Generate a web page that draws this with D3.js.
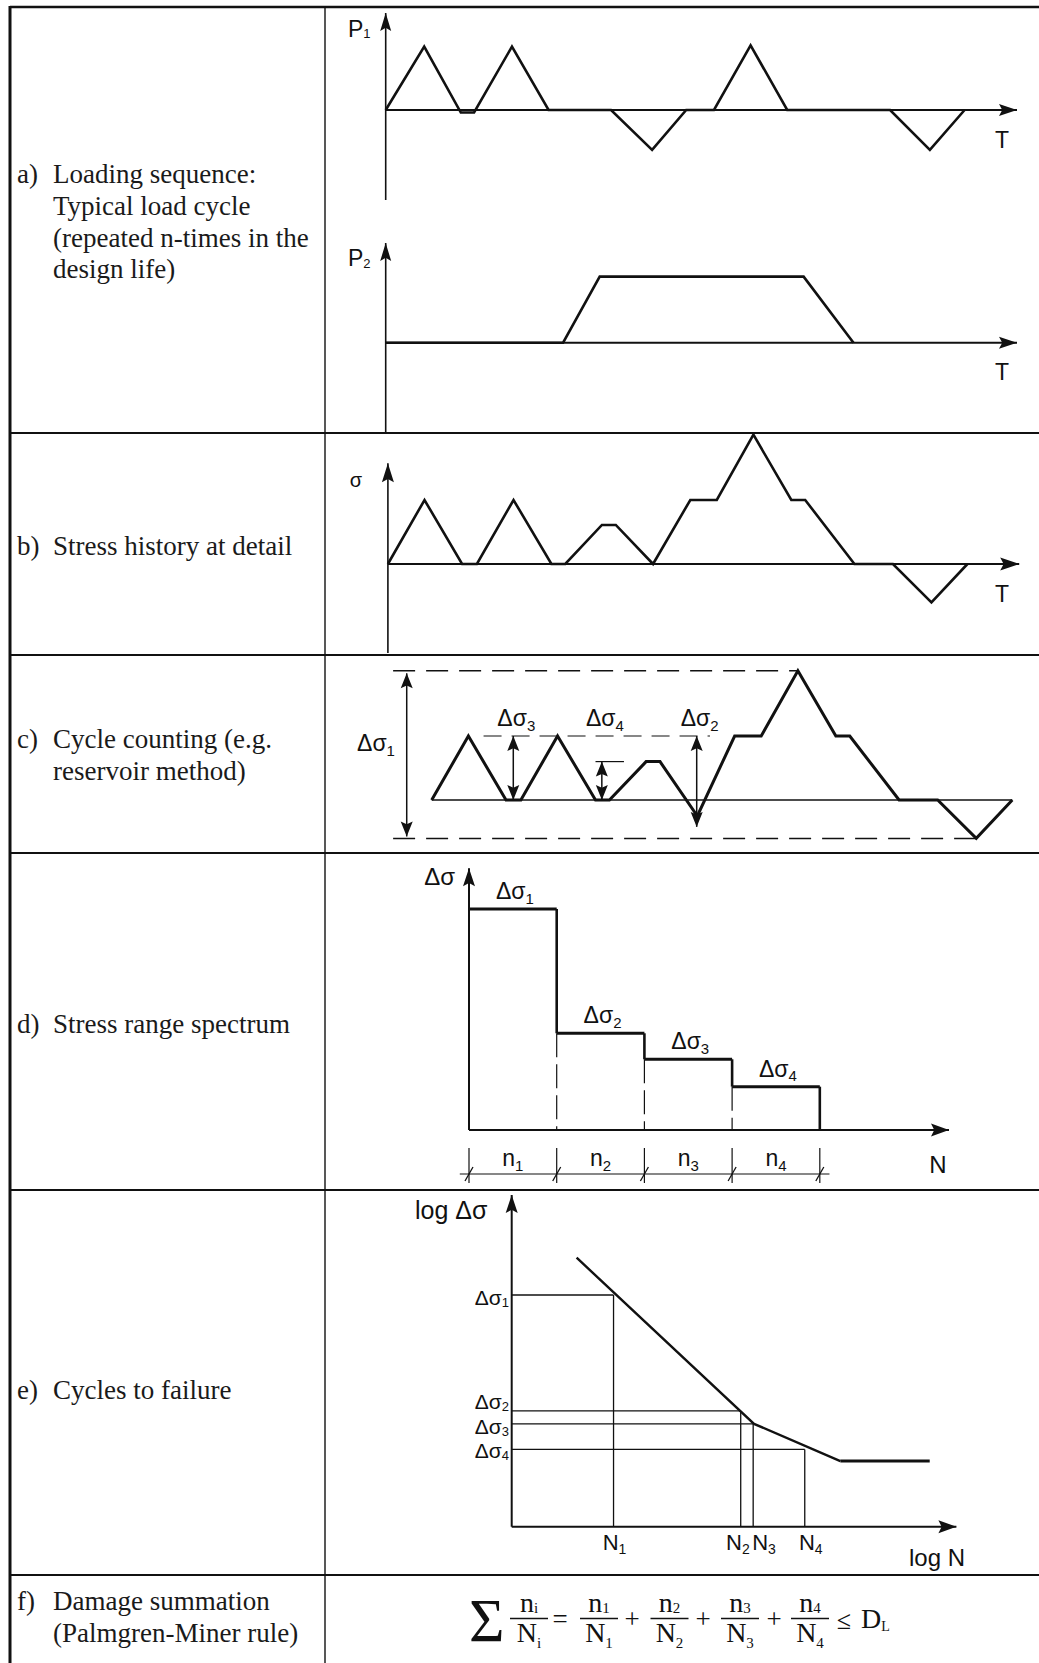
<!DOCTYPE html>
<html>
<head>
<meta charset="utf-8">
<script src="https://cdn.jsdelivr.net/npm/d3@7"></script>
<style>
  body { margin: 0; background: #fff; overflow: hidden; }
  svg { display: block; }
</style>
</head>
<body>
<svg id="chart" width="1039" height="1663"></svg>
<script>
// ---------------- data ----------------
// row captions (left column)
var rowLetters = ["a)", "b)", "c)", "d)", "e)", "f)"];
var rowText = [
  ["Loading sequence:", "Typical load cycle", "(repeated n-times in the", "design life)"],
  ["Stress history at detail"],
  ["Cycle counting (e.g.", "reservoir method)"],
  ["Stress range spectrum"],
  ["Cycles to failure"],
  ["Damage summation", "(Palmgren-Miner rule)"]
];

// a) loading sequence, time in % of one load cycle
var p1Time = [0, 6.1, 11.9, 14, 20, 25.8, 35.7, 42.2, 47.6, 52, 57.8, 63.6, 79.9, 86.2, 91.7];
var p1Load = [0, 1, -0.04, -0.04, 1, 0, 0, -0.63, 0, 0, 1.02, 0, 0, -0.63, 0];
var p2Time = [0, 28.1, 33.9, 66.2, 74.1];
var p2Load = [0, 0, 1, 1, 0];

// b) stress history at the detail
var sTime   = [0, 5.8, 11.75, 14.1, 19.9, 25.9, 28.1, 33.9, 36.1, 42, 47.9, 52.1, 57.9, 63.9, 66.1, 73.9, 80, 86.1, 91.8];
var sStress = [0, 1, 0, 0, 1, 0, 0, 0.61, 0.61, 0, 1, 1, 2.02, 1, 1, 0, 0, -0.6, 0];

// c) cycle counting (same time grid)
var cStress = [0, 1, 0, 0, 1, 0, 0, 0.6, 0.6, -0.25, 1, 1, 2.02, 1, 1, 0, 0, -0.6, 0];
var rangeSub    = ["1", "2", "3", "4"];
var rangeAt     = [-3.95, 41.9, 12.9, 26.9];   // time where the range arrow sits
var rangeTop    = [1.98, 1, 1, 0.6];
var rangeBottom = [-0.57, -0.42, 0, 0];

// d) stress range spectrum
var spectrumRange = [1, 0.4376, 0.32, 0.196];
var spectrumCount = [1, 1, 1, 1];

// e) S-N curve (log scales, arbitrary units 0..10)
var snLogN = [1.46, 5.45, 7.39, 9.4];
var snLogS = [8.11, 3.10, 1.98, 1.98];
var failLogN = [2.29, 5.15, 5.43, 6.59];
var failLogS = [6.985, 3.49, 3.10, 2.33];

// ---------------- helpers ----------------
var svg = d3.select("#chart");
var ink = "#111";
var sans = "'Liberation Sans', Arial, Helvetica, sans-serif";
var serif = "'Liberation Serif', 'Times New Roman', serif";
var W = 1039, H = 1663;

function head(g, x, y, ang, len, half) {
  var c = Math.cos(ang), s = Math.sin(ang);
  var bx = x - len * c, by = y - len * s;
  var nx = x - len * 0.82 * c, ny = y - len * 0.82 * s;
  g.append("path")
    .attr("d", "M" + x + "," + y +
      "L" + (bx - half * s) + "," + (by + half * c) +
      "L" + nx + "," + ny +
      "L" + (bx + half * s) + "," + (by - half * c) + "Z")
    .attr("fill", ink);
}

function arrowLine(g, x1, y1, x2, y2, w, len, half, both) {
  g.append("line")
    .attr("x1", x1).attr("y1", y1).attr("x2", x2).attr("y2", y2)
    .attr("stroke", ink).attr("stroke-width", w);
  head(g, x2, y2, Math.atan2(y2 - y1, x2 - x1), len, half);
  if (both) head(g, x1, y1, Math.atan2(y1 - y2, x1 - x2), len, half);
}

function seg(g, x1, y1, x2, y2, w, dash) {
  var l = g.append("line")
    .attr("x1", x1).attr("y1", y1).attr("x2", x2).attr("y2", y2)
    .attr("stroke", ink).attr("stroke-width", w);
  if (dash) l.attr("stroke-dasharray", dash);
  return l;
}

function subText(g, x, y, main, sub, size, anchor, family, subDy, subScale) {
  var t = g.append("text")
    .attr("x", x).attr("y", y)
    .attr("text-anchor", anchor || "start")
    .attr("font-family", family || sans)
    .attr("font-size", size)
    .attr("fill", ink);
  t.append("tspan").text(main);
  if (sub) {
    t.append("tspan")
      .attr("font-size", Math.round(size * (subScale || 0.64)))
      .attr("dy", subDy == null ? size * 0.2 : subDy)
      .text(sub);
  }
  return t;
}

// ---------------- table ----------------
var rules = [7, 433, 655, 853, 1190, 1575];
var leftX = 10, colX = 325;
var gT = svg.append("g");
rules.forEach(function(y, i) {
  seg(gT, leftX, y, W, y, i === 0 ? 2.6 : 2);
});
seg(gT, leftX, 6, leftX, H, 3);
seg(gT, colX, 7, colX, H, 1.4);

var rowBaseline = [183.3, 555, 748.3, 1033.3, 1399.3, 1610];
var lineGap = 31.7;
rowText.forEach(function(lines, i) {
  gT.append("text")
    .attr("x", 17).attr("y", rowBaseline[i])
    .attr("font-family", serif).attr("font-size", 27).attr("fill", "#1a1a1a")
    .text(rowLetters[i]);
  lines.forEach(function(s, j) {
    gT.append("text")
      .attr("x", 53).attr("y", rowBaseline[i] + j * lineGap)
      .attr("font-family", serif).attr("font-size", 27).attr("fill", "#1a1a1a")
      .text(s);
  });
});

// ---------------- a) loading sequence ----------------
var gA = svg.append("g");
var xA = d3.scaleLinear().domain([0, 100]).range([385.7, 1017]);
var yP1 = d3.scaleLinear().domain([-1.42, 1.53]).range([200, 13]);
var yP2 = d3.scaleLinear().domain([-1.368, 1.51]).range([433, 243]);

arrowLine(gA, xA(0), yP1.range()[0], xA(0), yP1.range()[1], 1.6, 18, 5.5);
arrowLine(gA, xA(0), yP1(0), xA.range()[1], yP1(0), 2, 18, 6);
gA.append("path")
  .datum(d3.zip(p1Time, p1Load))
  .attr("d", d3.line().x(function(d) { return xA(d[0]); }).y(function(d) { return yP1(d[1]); }))
  .attr("fill", "none").attr("stroke", ink).attr("stroke-width", 2.6).attr("stroke-linejoin", "miter");
subText(gA, 348, 37, "P", "1", 23, "start", sans, 1, 0.58);
gA.append("text").attr("x", 1002).attr("y", 148).attr("text-anchor", "middle")
  .attr("font-family", sans).attr("font-size", 23).attr("fill", ink).text("T");

arrowLine(gA, xA(0), yP2.range()[0], xA(0), yP2.range()[1], 1.6, 18, 5.5);
arrowLine(gA, xA(0), yP2(0), xA.range()[1], yP2(0), 2, 18, 6);
gA.append("path")
  .datum(d3.zip(p2Time, p2Load))
  .attr("d", d3.line().x(function(d) { return xA(d[0]); }).y(function(d) { return yP2(d[1]); }))
  .attr("fill", "none").attr("stroke", ink).attr("stroke-width", 2.6);
subText(gA, 348, 266, "P", "2", 23, "start", sans, 2, 0.58);
gA.append("text").attr("x", 1002).attr("y", 380).attr("text-anchor", "middle")
  .attr("font-family", sans).attr("font-size", 23).attr("fill", ink).text("T");

// ---------------- b) stress history ----------------
var gB = svg.append("g");
var xB = d3.scaleLinear().domain([0, 100]).range([387.9, 1019.2]);
var yB = d3.scaleLinear().domain([-1.39, 1.573]).range([653, 463.3]);
arrowLine(gB, xB(0), yB.range()[0], xB(0), yB.range()[1], 1.6, 19, 6);
arrowLine(gB, xB(0), yB(0), xB.range()[1], yB(0), 2, 19, 6.5);
gB.append("path")
  .datum(d3.zip(sTime, sStress))
  .attr("d", d3.line().x(function(d) { return xB(d[0]); }).y(function(d) { return yB(d[1]); }))
  .attr("fill", "none").attr("stroke", ink).attr("stroke-width", 2.6);
gB.append("text").attr("x", 356).attr("y", 487).attr("text-anchor", "middle")
  .attr("font-family", sans).attr("font-size", 20).attr("fill", ink).text("σ");
gB.append("text").attr("x", 1002).attr("y", 602).attr("text-anchor", "middle")
  .attr("font-family", sans).attr("font-size", 23).attr("fill", ink).text("T");

// ---------------- c) cycle counting ----------------
var gC = svg.append("g");
var xC = d3.scaleLinear().domain([0, 91.8]).range([431.7, 1012.3]);
var yC = d3.scaleLinear().domain([0, 1]).range([800, 736]);
var cMax = d3.max(cStress), cMin = d3.min(cStress);
// reference levels
seg(gC, xC(-6.1), yC(cMax), xC(sTime[12]), yC(cMax), 1.5, "22,11");
seg(gC, xC(-6.1), yC(cMin), xC(sTime[16] + 6), yC(cMin), 1.5, "22,11");
seg(gC, xC(8.2), yC(1), xC(44), yC(1), 1.2, "18,10");
seg(gC, xC(25.9), yC(0.6), xC(30.4), yC(0.6), 1.2);
seg(gC, xC(0), yC(0), xC(91.8), yC(0), 1.3);
gC.append("path")
  .datum(d3.zip(sTime, cStress))
  .attr("d", d3.line().x(function(d) { return xC(d[0]); }).y(function(d) { return yC(d[1]); }))
  .attr("fill", "none").attr("stroke", ink).attr("stroke-width", 3);
rangeAt.forEach(function(t, i) {
  arrowLine(gC, xC(t), yC(rangeBottom[i]), xC(t), yC(rangeTop[i]), 1.5, 15, 6, true);
});
subText(gC, 376, 751, "Δσ", rangeSub[0], 23, "middle");
[1, 2, 3].forEach(function(i) {
  subText(gC, xC(rangeAt[i]) + 3, 726, "Δσ", rangeSub[i], 23, "middle");
});

// ---------------- d) stress range spectrum ----------------
var gD = svg.append("g");
var xD = d3.scaleLinear().domain([0, 5.473]).range([469, 949]);
var yD = d3.scaleLinear().domain([0, 1.184]).range([1130, 868.3]);
var edges = [0].concat(Array.from(d3.cumsum(spectrumCount)));
arrowLine(gD, xD(0), yD(0), xD(0), yD.range()[1], 2, 18, 6);
arrowLine(gD, xD(0), yD(0), xD.range()[1], yD(0), 2, 18, 6.5);
spectrumRange.forEach(function(v, i) {
  seg(gD, xD(edges[i]), yD(v), xD(edges[i + 1]), yD(v), 3);
  var next = i < spectrumRange.length - 1 ? spectrumRange[i + 1] : 0;
  seg(gD, xD(edges[i + 1]), yD(v), xD(edges[i + 1]), yD(next), 2.6);
  if (next > 0) seg(gD, xD(edges[i + 1]), yD(next), xD(edges[i + 1]), yD(0), 1.2, "24,7");
  subText(gD, xD((edges[i] + edges[i + 1]) / 2) + 2, yD(v) - 10, "Δσ", String(i + 1), 23, "middle");
  subText(gD, xD((edges[i] + edges[i + 1]) / 2), 1166, "n", String(i + 1), 23, "middle");
});
// dimension line under the spectrum
var dimY = 1174;
seg(gD, xD(-0.105), dimY, xD(edges[edges.length - 1] + 0.11), dimY, 1.2);
edges.forEach(function(e) {
  seg(gD, xD(e), dimY - 26, xD(e), dimY + 9, 1.2);
  seg(gD, xD(e) - 4, dimY + 7, xD(e) + 4, dimY - 7, 1.3);
});
gD.append("text").attr("x", 455).attr("y", 885).attr("text-anchor", "end")
  .attr("font-family", sans).attr("font-size", 24).attr("fill", ink).text("Δσ");
gD.append("text").attr("x", 938).attr("y", 1173).attr("text-anchor", "middle")
  .attr("font-family", sans).attr("font-size", 24).attr("fill", ink).text("N");

// ---------------- e) cycles to failure ----------------
var gE = svg.append("g");
var xE = d3.scaleLinear().domain([0, 10]).range([511.7, 956.4]);
var yE = d3.scaleLinear().domain([0, 10]).range([1526.7, 1195]);
failLogN.forEach(function(n, i) {
  seg(gE, xE(0), yE(failLogS[i]), xE(n), yE(failLogS[i]), 1.3);
  seg(gE, xE(n), yE(failLogS[i]), xE(n), yE(0), 1.3);
});
gE.append("path")
  .datum(d3.zip(snLogN.slice(0, 3), snLogS.slice(0, 3)))
  .attr("d", d3.line().x(function(d) { return xE(d[0]); }).y(function(d) { return yE(d[1]); }))
  .attr("fill", "none").attr("stroke", ink).attr("stroke-width", 2.4);
seg(gE, xE(snLogN[2]), yE(snLogS[2]), xE(snLogN[3]), yE(snLogS[3]), 3.2);
arrowLine(gE, xE(0), yE(0), xE(0), yE.range()[1], 2, 18, 6);
arrowLine(gE, xE(0), yE(0), xE.range()[1], yE(0), 2, 18, 6.5);

var sLabelNudge = [10, -2, 10, 9];
failLogS.forEach(function(s, i) {
  subText(gE, 509, yE(s) + sLabelNudge[i], "Δσ", String(i + 1), 21, "end", sans, 2);
});
var nLabelAnchor = ["middle", "end", "start", "middle"];
var nLabelNudge = [1, 9, -1, 6];
failLogN.forEach(function(n, i) {
  subText(gE, xE(n) + nLabelNudge[i], 1550, "N", String(i + 1), 22, nLabelAnchor[i]);
});
gE.append("text").attr("x", 415).attr("y", 1219)
  .attr("font-family", sans).attr("font-size", 25).attr("fill", ink).text("log Δσ");
gE.append("text").attr("x", 937).attr("y", 1566).attr("text-anchor", "middle")
  .attr("font-family", sans).attr("font-size", 24).attr("fill", ink).text("log N");

// ---------------- f) Palmgren-Miner sum ----------------
var gF = svg.append("g");
var fracNum = ["i", "1", "2", "3", "4"];
var fracX = [529, 599, 669.5, 740, 810];
var barY = 1618.5;
gF.append("text").attr("x", 469).attr("y", 1641)
  .attr("font-family", serif).attr("font-size", 61).attr("fill", ink).text("Σ");
fracNum.forEach(function(k, i) {
  subText(gF, fracX[i], 1612, "n", k, 28, "middle", serif, 1, 0.55);
  seg(gF, fracX[i] - 19, barY, fracX[i] + 19, barY, 1.3);
  subText(gF, fracX[i], 1642, "N", k, 28, "middle", serif, 6, 0.55);
});
[["=", 560], ["+", 632], ["+", 703], ["+", 774]].forEach(function(o) {
  gF.append("text").attr("x", o[1]).attr("y", 1628).attr("text-anchor", "middle")
    .attr("font-family", serif).attr("font-size", 27).attr("fill", ink).text(o[0]);
});
gF.append("text").attr("x", 844).attr("y", 1629).attr("text-anchor", "middle")
  .attr("font-family", serif).attr("font-size", 26).attr("fill", ink).text("≤");
subText(gF, 861, 1628, "D", "L", 28, "start", serif, 3, 0.5);
</script>
</body>
</html>
